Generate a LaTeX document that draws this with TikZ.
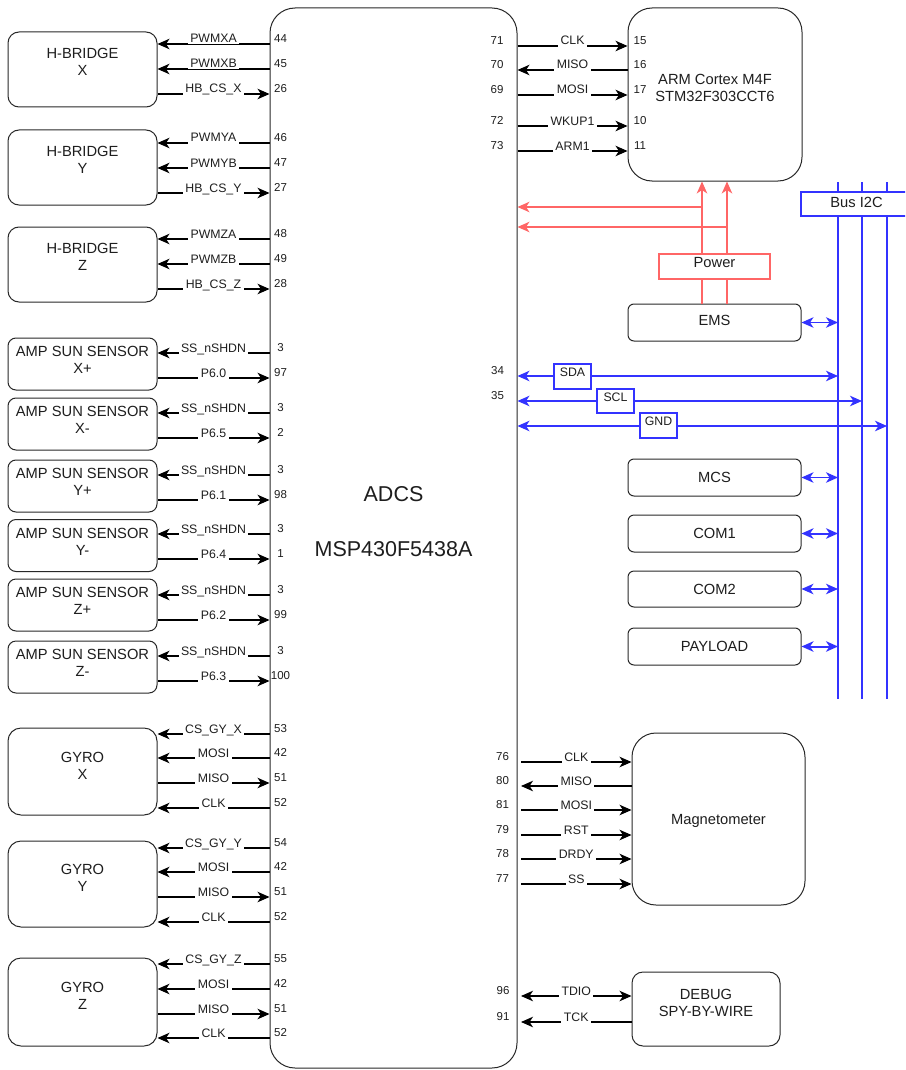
\documentclass[tikz,border=0pt]{standalone}
\usepackage{fontspec}
\setmainfont{Liberation Sans}
\usetikzlibrary{arrows.meta,calc}
\definecolor{bluec}{RGB}{51,51,255}
\definecolor{redc}{RGB}{255,102,102}
\definecolor{edgec}{RGB}{40,40,40}
\definecolor{txtc}{RGB}{30,30,30}
\begin{document}
\begin{tikzpicture}[x=1pt,y=-1pt,
  >={Stealth[length=12pt,width=10.5pt,inset=3.5pt]},
  box/.style={draw=edgec,line width=1pt,fill=white,inner sep=0pt},
  bt/.style={font=\fontsize{14.7}{17}\selectfont,align=center,text=txtc},
  bigt/.style={font=\fontsize{21.5}{26}\selectfont,text=txtc},
  lblt/.style={font=\fontsize{12.3}{14}\selectfont,text=txtc},
  lbl/.style={font=\fontsize{12.3}{14}\selectfont,text=txtc,fill=white,inner xsep=2.5pt,inner ysep=1.5pt,anchor=base,yshift=1pt},
  pnum/.style={font=\fontsize{11.5}{13}\selectfont,text=txtc,anchor=base,yshift=1.5pt,inner sep=0pt},
  wire/.style={draw=black,line width=1.1pt},
  bwire/.style={draw=bluec,line width=1.2pt},
  rwire/.style={draw=redc,line width=1.3pt}]
\useasboundingbox (0,0) rectangle (905,1070);
\clip (0,0) rectangle (905,1070);

% ---------- main MCU ----------
\node[box,rounded corners=25pt,minimum width=247pt,minimum height=1060pt,
  label={[bigt,yshift=43.5pt]center:ADCS},
  label={[bigt,yshift=-11.5pt]center:MSP430F5438A}] (chip) at (393.5,538) {};

% ---------- left boxes ----------
\node[box,rounded corners=11pt,minimum width=149pt,minimum height=75pt,
  label={[bt,yshift=7.5pt]center:{H-BRIDGE\\X}}] (hbx) at (82.5,69.5) {};
\node[box,rounded corners=11pt,minimum width=149pt,minimum height=75pt,
  label={[bt,yshift=7.5pt]center:{H-BRIDGE\\Y}}] (hby) at (82.5,167.5) {};
\node[box,rounded corners=11pt,minimum width=149pt,minimum height=75pt,
  label={[bt,yshift=7.5pt]center:{H-BRIDGE\\Z}}] (hbz) at (82.5,264.5) {};

\foreach \c/\t/\nm in {364/X+/ssxp,424/X-/ssxm,486/Y+/ssyp,545.5/Y-/ssym,605/Z+/sszp,667/Z-/sszm}{
  \node[box,rounded corners=8pt,minimum width=149pt,minimum height=52pt,
    label={[bt,yshift=4pt]center:{AMP SUN SENSOR\\\t}}] (\nm) at (82.5,\c) {};
}

\node[box,rounded corners=13pt,minimum width=149pt,minimum height=87pt,
  label={[bt,yshift=6pt]center:{GYRO\\X}}] (gx) at (82.5,771.5) {};
\node[box,rounded corners=13pt,minimum width=149pt,minimum height=86pt,
  label={[bt,yshift=6pt]center:{GYRO\\Y}}] (gy) at (82.5,884) {};
\node[box,rounded corners=13pt,minimum width=149pt,minimum height=88pt,
  label={[bt,yshift=6pt]center:{GYRO\\Z}}] (gz) at (82.5,1002) {};

% ---------- left connectors ----------
\foreach \y/\t/\b in {44/PWMXA/hbx,69/PWMXB/hbx,143/PWMYA/hby,168/PWMYB/hby,239/PWMZA/hbz,264/PWMZB/hbz,
  353/SS\_nSHDN/ssxp,413/SS\_nSHDN/ssxm,475/SS\_nSHDN/ssyp,534/SS\_nSHDN/ssym,595/SS\_nSHDN/sszp,656/SS\_nSHDN/sszm,
  734/CS\_GY\_X/gx,758/MOSI/gx,808/CLK/gx,848/CS\_GY\_Y/gy,872/MOSI/gy,922/CLK/gy,964/CS\_GY\_Z/gz,989/MOSI/gz,1038/CLK/gz}{
  \draw[wire,->] (chip.west |- 0,\y) -- node[lbl] (l\y) {\t} (\b.east |- 0,\y);
}
\foreach \y/\t/\b in {94/HB\_CS\_X/hbx,193/HB\_CS\_Y/hby,289/HB\_CS\_Z/hbz,
  378/P6.0/ssxp,438/P6.5/ssxm,500/P6.1/ssyp,559/P6.4/ssym,620/P6.2/sszp,681/P6.3/sszm,
  783/MISO/gx,897/MISO/gy,1014/MISO/gz}{
  \draw[wire,<-] (chip.west |- 0,\y) -- node[lbl] (l\y) {\t} (\b.east |- 0,\y);
}
\foreach \y/\n in {44/44,69/45,94/26,143/46,168/47,193/27,239/48,264/49,289/28,
  353/3,378/97,413/3,438/2,475/3,500/98,534/3,559/1,595/3,620/99,656/3,681/100,
  734/53,758/42,783/51,808/52,848/54,872/42,897/51,922/52,964/55,989/42,1014/51,1038/52}{
  \node[pnum] (pl\y) at (280.5,\y) {\n};
}

% ---------- ARM ----------
\node[box,rounded corners=24pt,minimum width=174pt,minimum height=173pt,
  label={[bt,yshift=6.5pt]center:{ARM Cortex M4F\\STM32F303CCT6}}] (arm) at (715,94.5) {};
\foreach \y/\t in {46/CLK,95/MOSI,126/WKUP1,151/ARM1}{
  \draw[wire,->] (chip.east |- 0,\y) -- node[lbl] (r\y) {\t} (arm.west |- 0,\y);
}
\draw[wire,<-] (chip.east |- 0,70) -- node[lbl] (r70) {MISO} (arm.west |- 0,70);
\foreach \y/\n/\m in {46/71/15,70/70/16,95/69/17,126/72/10,151/73/11}{
  \node[pnum] (pr\y) at (497,\y) {\n};
  \node[pnum] (pa\y) at (640,\y) {\m};
}

% ---------- Power ----------
\node[box,rounded corners=6pt,minimum width=173pt,minimum height=37pt,
  label={[bt,yshift=2pt]center:EMS}] (ems) at (714.5,322.5) {};
\coordinate (rv1) at (702,207);
\coordinate (rv2) at (727,227);
\draw[rwire,->] (ems.north -| rv1) -- (arm.south -| rv1);
\draw[rwire,->] (ems.north -| rv2) -- (arm.south -| rv2);
\draw[rwire,->] (rv1) -- (chip.east |- rv1);
\draw[rwire,->] (rv2) -- (chip.east |- rv2);
\node[box,draw=redc,line width=1.2pt,minimum width=111pt,minimum height=25pt,
  label={[bt,yshift=4pt]center:Power}] (power) at (714.5,266.5) {};

% ---------- I2C bus ----------
\coordinate (b1t) at (838,182); \coordinate (b1b) at (838,699);
\coordinate (b2t) at (862,182); \coordinate (b2b) at (862,699);
\coordinate (b3t) at (887,182); \coordinate (b3b) at (887,699);
\draw[bwire] (b1t) -- (b1b);
\draw[bwire] (b2t) -- (b2b);
\draw[bwire] (b3t) -- (b3b);
\node[box,draw=bluec,line width=1.2pt,minimum width=111pt,minimum height=24pt,
  label={[bt,yshift=2pt]center:Bus I2C}] (bus) at (856.5,204) {};

\node[box,rounded corners=6pt,minimum width=173pt,minimum height=37pt,
  label={[bt]center:MCS}] (mcs) at (714.5,477.5) {};
\node[box,rounded corners=6pt,minimum width=173pt,minimum height=37pt,
  label={[bt]center:COM1}] (com1) at (714.5,533.5) {};
\node[box,rounded corners=6pt,minimum width=173pt,minimum height=36pt,
  label={[bt]center:COM2}] (com2) at (714.5,589) {};
\node[box,rounded corners=6pt,minimum width=173pt,minimum height=37pt,
  label={[bt]center:PAYLOAD}] (payload) at (714.5,646.5) {};

\draw[bwire,<->] (ems.east) -- (ems.east -| b1t);
\draw[bwire,<->] (mcs.east) -- (mcs.east -| b1t);
\draw[bwire,<->,line width=2pt] (com1.east) -- (com1.east -| b1t);
\draw[bwire,<->] (com2.east) -- (com2.east -| b1t);
\draw[bwire,<->,line width=2pt] (payload.east) -- (payload.east -| b1t);

\draw[bwire,<->] (chip.east |- 0,376) -- (b1t |- 0,376);
\draw[bwire,<->] (chip.east |- 0,401) -- (b2t |- 0,401);
\draw[bwire,<->] (chip.east |- 0,426) -- (b3t |- 0,426);
\node[box,draw=bluec,line width=1.2pt,minimum width=37pt,minimum height=25pt,
  label={[lblt,yshift=4.5pt]center:SDA}] (sda) at (572.5,376.5) {};
\node[box,draw=bluec,line width=1.2pt,minimum width=37pt,minimum height=24pt,
  label={[lblt,yshift=4pt]center:SCL}] (scl) at (615.5,401) {};
\node[box,draw=bluec,line width=1.2pt,minimum width=37pt,minimum height=25pt,
  label={[lblt,yshift=4.5pt]center:GND}] (gnd) at (658.5,425.5) {};
\node[pnum] (pr376) at (497.5,376) {34};
\node[pnum] (pr401) at (497.5,401) {35};

% ---------- Magnetometer ----------
\node[box,rounded corners=24pt,minimum width=173pt,minimum height=172pt,
  label={[bt,yshift=-1.5pt]center:Magnetometer}] (mag) at (718.5,819) {};
\coordinate (mgx) at (521,0);
\foreach \y/\t in {762/CLK,810/MOSI,835/RST,859/DRDY,884/SS}{
  \draw[wire,->] (mgx |- 0,\y) -- node[lbl] (r\y) {\t} (mag.west |- 0,\y);
}
\draw[wire,<-] (mgx |- 0,786) -- node[lbl] (r786) {MISO} (mag.west |- 0,786);
\foreach \y/\n in {762/76,786/80,810/81,835/79,859/78,884/77}{
  \node[pnum] (pr\y) at (502.5,\y) {\n};
}

% ---------- Debug ----------
\node[box,rounded corners=11pt,minimum width=148pt,minimum height=74pt,
  label={[bt,yshift=6.5pt]center:{DEBUG\\SPY-BY-WIRE}}] (dbg) at (706,1009) {};
\draw[wire,<->] (mgx |- 0,996) -- node[lbl] (r996) {TDIO} (dbg.west |- 0,996);
\draw[wire,<-] (mgx |- 0,1022) -- node[lbl] (r1022) {TCK} (dbg.west |- 0,1022);
\node[pnum] (pr996) at (503,996) {96};
\node[pnum] (pr1022) at (503,1022) {91};
\end{tikzpicture}
\end{document}
